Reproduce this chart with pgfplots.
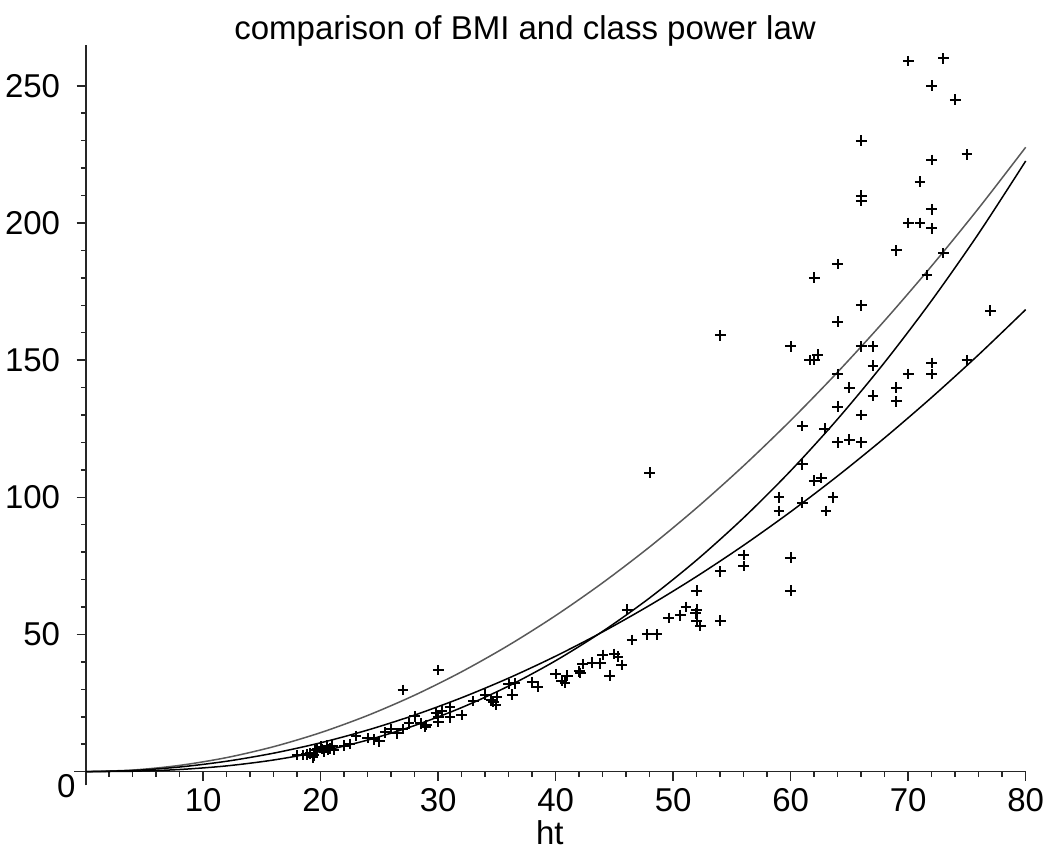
\documentclass[border=0pt]{standalone}
\usepackage{fontspec}
\setmainfont{Liberation Sans}
\usepackage{pgfplots}
\pgfplotsset{compat=1.18}

\newcommand{\lblfont}{\fontsize{9.9}{12}\selectfont}

\begin{document}
\begin{tikzpicture}
\begin{axis}[
  scale only axis,
  width=285.5pt, height=222.2pt,
  xmin=-1, xmax=80, ymin=-5, ymax=265,
  axis lines=middle,
  axis line style={-, line width=0.45pt, black!85},
  tick align=outside,
  tick style={line width=0.45pt, black!85},
  major tick length=2.7pt, minor tick length=1.5pt,
  xtick={0,10,20,30,40,50,60,70,80},
  xticklabels={,10,20,30,40,50,60,70,80},
  minor x tick num=4,
  ytick={0,50,100,150,200,250},
  yticklabels={,50,100,150,200,250},
  minor y tick num=4,
  extra y ticks={0},
  extra y tick labels={0},
  extra y tick style={yticklabel style={xshift=4.6pt, yshift=-4.5pt}},
  hide obscured x ticks=false, hide obscured y ticks=false,
  tick label style={font=\lblfont},
  xticklabel style={anchor=north, inner sep=0pt, yshift=-2.3pt},
  yticklabel style={anchor=east, inner sep=0pt, xshift=-4.8pt},
  xlabel={ht},
  xlabel style={font=\lblfont, at={(rel axis cs:0.5,0)}, anchor=center, inner sep=0pt, yshift=-14.3pt},
  title={comparison of BMI and class power law},
  title style={font=\lblfont, at={(rel axis cs:0.474,1)}, anchor=base, inner sep=0pt, yshift=-4.4pt},
  clip=false,
]
\coordinate (ll) at (rel axis cs:0,0);
\coordinate (ur) at (rel axis cs:1,1);

% BMI 25 line
\addplot[black!65, line width=0.45pt, smooth] coordinates {
(0,0) (4,0.569) (8,2.276) (12,5.121) (16,9.104) (20,14.225) (24,20.484)
(28,27.881) (32,36.415) (36,46.088) (40,56.899) (44,68.848) (48,81.935)
(52,96.159) (56,111.522) (60,128.023) (64,145.661) (68,164.438)
(72,184.353) (76,205.405) (80,227.596)};

% BMI 18.5 line
\addplot[black, line width=0.45pt, smooth] coordinates {
(0,0) (4,0.421) (8,1.684) (12,3.789) (16,6.737) (20,10.526) (24,15.158)
(28,20.632) (32,26.947) (36,34.105) (40,42.105) (44,50.947) (48,60.632)
(52,71.158) (56,82.526) (60,94.737) (64,107.789) (68,121.684)
(72,136.421) (76,152.000) (80,168.421)};

% class power law
\addplot[black, line width=0.45pt, smooth] coordinates {
(0,0) (4,0.140) (8,0.772) (12,2.093) (16,4.246) (20,7.352) (24,11.513)
(28,16.822) (32,23.362) (36,31.215) (40,40.451) (44,51.139) (48,63.343)
(52,77.13) (56,92.56) (60,109.68) (64,128.55) (68,149.23)
(72,171.75) (76,196.19) (80,222.58)};

% ht / wt data
\addplot[only marks, mark=+, mark size=1.6pt, black, mark options={line width=0.6pt}] coordinates {
(18,6) (18.5,6) (18.8,6.3) (19.1,6.7) (19.3,5.2) (19.4,5.9) (19.5,7.7)
(19.7,8.2) (20,9.1) (20.1,8.2) (20.3,7.3) (20.5,9.4) (20.6,8) (20.8,8.5)
(21,9.4) (21.1,7.9) (22,9.4) (22.5,10.1) (23,13) (24,12.2) (24.5,11.8)
(25,11.1) (25.5,14.3) (26,15.5) (26.5,14) (27,15.5) (27,29.8) (27.5,17.6)
(28,20.1) (28.5,17.6) (28.9,16.4) (29,17) (29.8,21.3) (30,19.8) (30,18.2)
(30,37) (30.3,22.2) (31,23.5) (31,19.8) (32,20.7) (33,25.8) (34,28)
(34.5,26) (34.7,25.5) (34.9,24.3) (35,27.3) (36,32) (36.5,32.2) (36.3,28)
(38,32.6) (38.5,31) (40,35.6) (40.5,33.2) (40.8,32.4) (41,35) (42,36.5)
(42.1,36) (42.3,39.2) (43.1,39.7) (43.8,39.5) (44,42.5) (44.6,35) (45,42.9)
(45.3,41.9) (45.6,38.9) (46.1,59) (46.5,48) (47.8,50) (48,109) (48.6,50)
(49.6,56) (50.6,57) (51.1,60) (51.9,57.7) (52,59) (52,55) (52.3,53.1)
(52,66) (54,55) (54,73) (54,159) (56,79) (56,75)
(59,100) (59,95) (60,155) (60,78) (60,66) (61,126) (61,112) (61,98)
(61.6,150) (62,150) (62,180) (62.3,152) (62,106) (62.6,107) (63,95)
(63.6,100) (62.9,125) (64,185) (64,164) (64,145) (64,133) (64,120)
(65,140) (65,121) (66,230) (66,210) (66,208) (66,170) (66,155) (66,130)
(66,120) (67,155) (67,148) (67,137) (69,190) (69,140) (69,135) (70,259)
(70,200) (70,145) (71,215) (71,200) (71.6,181) (72,250) (72,223) (72,205)
(72,198) (72,149) (72,145) (73,260) (73,189) (74,245) (75,225) (75,150)
(77,168)};
\end{axis}
\pgfresetboundingbox
\path[use as bounding box] ([shift={(-22.2pt,-22.7pt)}]ll) rectangle ([shift={(6.1pt,13.4pt)}]ur);
\end{tikzpicture}
\end{document}
